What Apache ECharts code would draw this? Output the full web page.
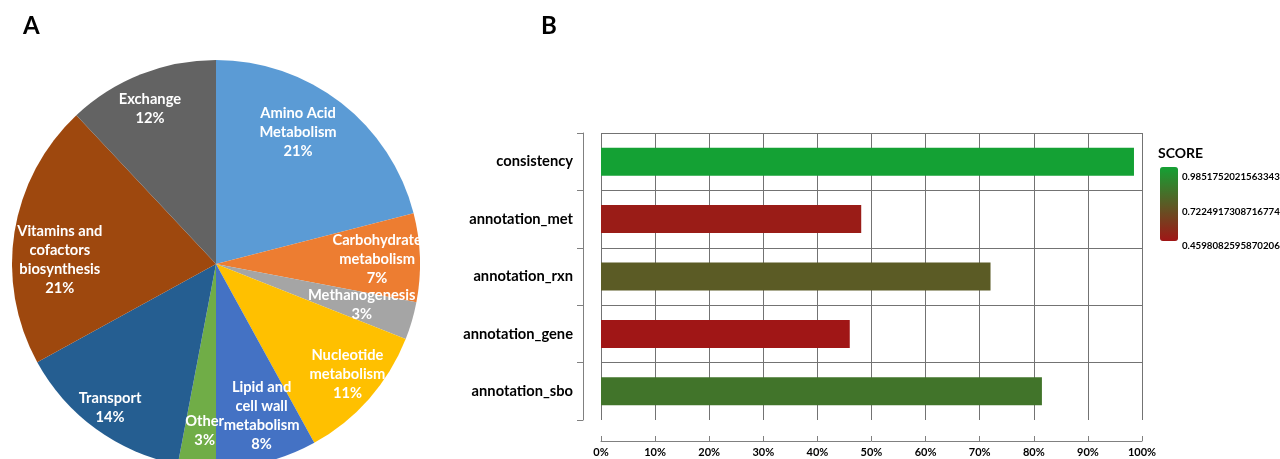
<!DOCTYPE html>
<html>
<head>
<meta charset="utf-8">
<script src="https://cdn.jsdelivr.net/npm/echarts@6/dist/echarts.min.js"></script>
<style>
html,body{margin:0;padding:0;background:#fff;}
#chart{width:1280px;height:459px;}
</style>
</head>
<body>
<div id="chart"></div>
<script>
// ---- data ----
const pieNames = [
  'Amino Acid\nMetabolism',
  'Carbohydrate\nmetabolism',
  'Methanogenesis',
  'Nucleotide\nmetabolism',
  'Lipid and\ncell wall\nmetabolism',
  'Other',
  'Transport',
  'Vitamins and\ncofactors\nbiosynthesis',
  'Exchange'
];
const pieValues = [21, 7, 3, 11, 8, 3, 14, 21, 12];

const barCategories = ['consistency', 'annotation_met', 'annotation_rxn', 'annotation_gene', 'annotation_sbo'];
const barScores = [0.9851752021563343, 0.481, 0.72, 0.4598082595870206, 0.815];

const xTickLabels = ['0%', '10%', '20%', '30%', '40%', '50%', '60%', '70%', '80%', '90%', '100%'];
const scoreLegendLabels = ['0.9851752021563343', '0.7224917308716774', '0.4598082595870206'];

// ---- styles ----
const pieColors = ['#5B9BD5', '#ED7D31', '#A5A5A5', '#FFC000', '#4472C4', '#70AD47', '#255E91', '#9E480E', '#636363'];
// small per-slice label nudges (pixels), styling only
const pieLabelNudge = [[-18, -3], [-2, 0], [-11, -5], [9, 2], [5, -6], [4, 4], [-10, 12], [5, 21], [-6, -4]];
const FONT = 'Lato, "Open Sans", sans-serif';
const PIE_CX = 216, PIE_CY = 264, PIE_R = 204;
const LABEL_DIST = 0.8;

const scoreMin = Math.min.apply(null, barScores);
const scoreMax = Math.max.apply(null, barScores);

const chart = echarts.init(document.getElementById('chart'), null, {renderer: 'canvas'});

const option = {
  backgroundColor: '#ffffff',
  animation: false,
  grid: {left: 601, right: 138, top: 133, bottom: 39, containLabel: false},
  xAxis: {
    type: 'value', min: 0, max: 1, interval: 0.1,
    offset: 21,
    axisLine: {show: true, onZero: false, lineStyle: {color: '#808080', width: 1}},
    axisTick: {show: true, inside: true, length: 5, lineStyle: {color: '#808080'}},
    axisLabel: {
      margin: 6, color: '#000', fontWeight: 'bold', fontSize: 11, fontFamily: FONT,
      formatter: function (v) { return xTickLabels[Math.round(v * 10)]; }
    },
    splitLine: {show: true, lineStyle: {color: '#737373', width: 1}}
  },
  yAxis: {
    type: 'category', data: barCategories, inverse: true,
    offset: 18,
    axisLine: {show: true, onZero: false, lineStyle: {color: '#808080', width: 1}},
    axisTick: {show: true, length: 6, lineStyle: {color: '#808080'}},
    axisLabel: {margin: 10, color: '#000', fontWeight: 'bold', fontSize: 14.7, fontFamily: FONT},
    splitLine: {show: true, showMaxLine: false, lineStyle: {color: '#737373', width: 1}}
  },
  visualMap: {
    type: 'continuous',
    min: scoreMin, max: scoreMax,
    dimension: 0,
    seriesIndex: 1,
    inRange: {color: ['#A01616', '#14A134']},
    calculable: false,
    left: 1160, top: 167,
    itemWidth: 18, itemHeight: 74,
    padding: 0,
    text: null,
    orient: 'vertical'
  },
  series: [
    {
      type: 'pie',
      center: [PIE_CX, PIE_CY],
      radius: PIE_R,
      startAngle: 90,
      clockwise: true,
      avoidLabelOverlap: false,
      data: pieNames.map(function (n, i) {
        return {name: n, value: pieValues[i], itemStyle: {color: pieColors[i]}};
      }),
      itemStyle: {borderWidth: 0},
      label: {
        show: true, position: 'inside',
        formatter: '{b}\n{d}%',
        overflow: 'none',
        color: '#fff', fontWeight: 'bold', fontSize: 14.7, lineHeight: 19, fontFamily: FONT
      },
      labelLine: {show: false},
      labelLayout: function (p) {
        const r = p.labelRect;
        const cx = r.x + r.width / 2, cy = r.y + r.height / 2;
        const vx = cx - PIE_CX, vy = cy - PIE_CY;
        const d = Math.hypot(vx, vy) || 1;
        const t = PIE_R * LABEL_DIST;
        const n = pieLabelNudge[p.dataIndex] || [0, 0];
        return {dx: vx / d * t - vx + n[0], dy: vy / d * t - vy + n[1]};
      },
      emphasis: {disabled: true}
    },
    {
      type: 'bar',
      data: barCategories.map(function (c, i) { return [barScores[i], c]; }),
      encode: {x: 0, y: 1},
      barWidth: 28,
      emphasis: {disabled: true}
    }
  ],
  graphic: [
    {type: 'text', left: 23, top: 14, style: {text: 'A', fill: '#000', font: 'bold 24px ' + FONT}},
    {type: 'text', left: 541, top: 14, style: {text: 'B', fill: '#000', font: 'bold 24px ' + FONT}},
    {type: 'text', left: 1158, top: 146, style: {text: 'SCORE', fill: '#000', font: 'bold 14px ' + FONT}},
    {type: 'text', x: 1182, y: 177, style: {text: scoreLegendLabels[0], fill: '#000', font: 'bold 9.7px ' + FONT, textVerticalAlign: 'middle'}},
    {type: 'text', x: 1182, y: 212, style: {text: scoreLegendLabels[1], fill: '#000', font: 'bold 9.7px ' + FONT, textVerticalAlign: 'middle'}},
    {type: 'text', x: 1182, y: 246, style: {text: scoreLegendLabels[2], fill: '#000', font: 'bold 9.7px ' + FONT, textVerticalAlign: 'middle'}}
  ]
};
chart.setOption(option);
</script>
</body>
</html>
